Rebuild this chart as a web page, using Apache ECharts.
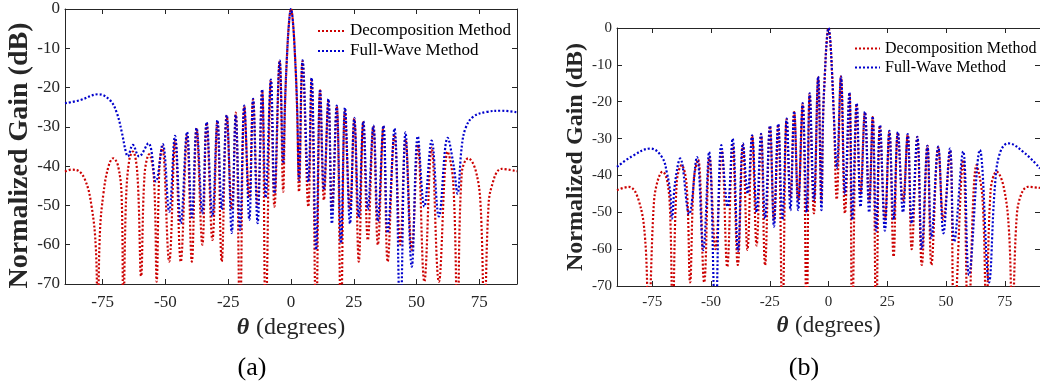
<!DOCTYPE html>
<html><head><meta charset="utf-8">
<script src="https://cdn.jsdelivr.net/npm/echarts@6/dist/echarts.min.js"></script>
<style>html,body{margin:0;padding:0;background:#fff}#c{width:1040px;height:387px}</style>
</head><body><div id="c"></div>
<script>
// ---- data (theta in degrees, normalized gain in dB) ----
const xTicks = [-75, -50, -25, 0, 25, 50, 75];
const seriesNames = ['Decomposition Method', 'Full-Wave Method'];
const captions = ['(a)', '(b)'];

const decompA = [[-90,-41.4],[-87.5,-40.9],[-85.4,-41.0],[-82,-43.5],[-79.4,-50.3],[-77.7,-61],[-77,-80],[-76.1,-57],[-74.7,-47],[-72.7,-40.1],[-70.8,-38.0],[-68.8,-40.1],[-67.4,-48.6],[-66.8,-80],[-65.7,-48.6],[-64.4,-38.4],[-63,-36.3],[-61.2,-41.8],[-59.7,-68],[-58.3,-42],[-56.5,-37],[-54.6,-43],[-53.5,-69.4],[-52.4,-40],[-51.3,-35],[-48.5,-64.3],[-46.1,-33.5],[-43.9,-64.3],[-41.4,-32],[-39.5,-64.3],[-37.6,-30.6],[-35.3,-60],[-33.6,-29],[-31.3,-58.8],[-29.3,-28.6],[-27.6,-64.3],[-25.6,-27.2],[-23.6,-51],[-22.0,-26.4],[-20.3,-80],[-18.6,-24.8],[-16.6,-48],[-15.1,-23.1],[-13.3,-50],[-11.5,-20.7],[-10.1,-80],[-8.0,-18.2],[-6.6,-50.3],[-4.5,-13.3],[-3.1,-46.5],[-2.4,-25],[-1.6,-12],[-0.7,-2.8],[0,0],[0.7,-2.8],[1.6,-12],[2.4,-25],[3.2,-46.5],[4.6,-13.3],[6.9,-50.3],[8.2,-17.7],[10.0,-80],[11.6,-20.7],[13.1,-48.6],[14.9,-23.1],[16.3,-51],[18.2,-24.8],[19.9,-80],[21.5,-26],[23.5,-51],[25.2,-27.9],[27.0,-64.3],[28.8,-28.8],[30.6,-58.8],[32.8,-30],[34.6,-60],[36.8,-30],[38.5,-64.3],[41.2,-32],[43.5,-60],[45.6,-33.2],[48.1,-61.3],[50.5,-34.6],[53.1,-69.4],[56,-35.3],[58.9,-69.4],[62.4,-36.3],[64.6,-44],[66.3,-80],[68,-41.8],[70.6,-38],[73.5,-41],[75.5,-50],[77,-80],[78.5,-52],[79.9,-45.2],[83.9,-40.7],[90,-41.3]];

const fullA = [[-90,-24],[-84,-23.2],[-76.7,-21.7],[-72.1,-23.2],[-69.4,-26.4],[-67.4,-31.3],[-65.8,-36.3],[-65,-37.5],[-63,-34.6],[-60.5,-37.5],[-56.8,-34.2],[-53.8,-43.9],[-51.1,-34.4],[-48.5,-51.6],[-46.2,-32.3],[-43.9,-54.5],[-41.4,-31.3],[-39.5,-53],[-37.6,-30.3],[-35.3,-52],[-33.6,-28.8],[-31.3,-52.8],[-29.3,-28.3],[-27.6,-51],[-25.6,-27],[-23.6,-57],[-22.0,-27],[-20.3,-56.2],[-18.6,-24.6],[-16.6,-53.7],[-15.1,-22.9],[-13.3,-54.5],[-11.5,-20.5],[-10.1,-48],[-8.0,-18],[-6.6,-46.9],[-4.5,-13.1],[-3.1,-39.3],[-2.4,-24],[-1.6,-12],[-0.7,-2.8],[0,0],[0.7,-2.8],[1.6,-12],[2.4,-24],[3.2,-43.5],[4.6,-13.1],[6.9,-44],[8.2,-17.5],[10.0,-61.3],[11.6,-20.5],[13.1,-46],[14.9,-22.9],[16.3,-54.6],[18.2,-24.6],[19.9,-59.6],[21.5,-25.1],[23.5,-54.6],[25.2,-27.7],[27.0,-53],[28.8,-28.6],[30.6,-51],[32.8,-29.7],[34.6,-54],[36.8,-29.7],[38.5,-57],[41.2,-30.4],[43.5,-80],[45.6,-31.4],[48.1,-65.6],[50.5,-32.4],[53.1,-50.3],[56,-33.5],[58.9,-52.8],[62.4,-32.8],[64.8,-40],[66.3,-47],[68,-35],[69.6,-30.2],[72.6,-27.4],[77.9,-26.2],[83.9,-25.9],[90,-26.3]];

const decompB = [[-90,-44],[-85,-43.1],[-80.8,-46.7],[-78,-57.5],[-76.6,-80],[-74.4,-48.5],[-73,-42.2],[-70.6,-39],[-68.7,-41.3],[-67.4,-50],[-66.3,-80],[-64.6,-42],[-62.5,-37.2],[-60.4,-42.5],[-58.9,-69],[-57.3,-41],[-55.5,-35.7],[-52.9,-69],[-50.6,-35],[-48.1,-60],[-45.4,-33.4],[-43.1,-64.8],[-40.8,-31.8],[-38.6,-64.3],[-36.4,-31.8],[-34.5,-60.2],[-32.5,-29.3],[-30.6,-59],[-28.7,-28.9],[-27.0,-64.4],[-24.9,-26.7],[-23.2,-52],[-21.4,-26.2],[-19.6,-80],[-17.8,-24.8],[-16.2,-46],[-14.6,-22.8],[-12.9,-46.7],[-11.0,-20.6],[-9.3,-80],[-8.0,-17.9],[-6.2,-50.3],[-4.4,-13.4],[-3.0,-47],[-2.3,-24],[-1.5,-12],[-0.7,-3],[0,0],[0.7,-3],[1.5,-12],[2.3,-24],[3.5,-46.5],[5.3,-13.2],[7.0,-50.3],[8.9,-17.7],[10.1,-80],[12.0,-20.6],[13.6,-45],[15.5,-22.9],[17.3,-47],[18.8,-24.2],[20.3,-80],[21.9,-26.5],[24.0,-52],[25.9,-28.1],[27.7,-62],[29.5,-28.4],[31.7,-47],[33.7,-29],[35.4,-60],[37.8,-29.6],[39.7,-64.3],[42.1,-32],[43.8,-64.3],[46.7,-32.5],[48.9,-52],[51.7,-33.2],[53.5,-80],[57.3,-35.8],[59.5,-80],[63,-37.2],[65.5,-46],[67.2,-80],[69,-44],[71.6,-39],[74.5,-43],[76.8,-55],[78.2,-80],[80,-52],[81.8,-45.5],[84.9,-43.1],[90,-43.4]];

const fullB = [[-90,-37.7],[-83.6,-34.8],[-75.8,-32.7],[-70.9,-35],[-68.7,-39.5],[-67.3,-44.9],[-66.6,-51.7],[-65.3,-42],[-63.1,-35.4],[-59.3,-50.5],[-56,-35],[-53.3,-60.2],[-50.8,-33.6],[-48.1,-80],[-45.6,-31.8],[-42.9,-48.5],[-40.8,-30],[-38.5,-60.5],[-36.4,-31.3],[-34.4,-44.9],[-32.5,-29.1],[-30.6,-50],[-28.7,-28.7],[-27.0,-51.7],[-24.9,-26.5],[-23.2,-53.9],[-21.4,-26],[-19.6,-52],[-17.8,-24.6],[-16.2,-49.4],[-14.6,-22.6],[-12.9,-49.4],[-11.0,-20.4],[-9.3,-50],[-8.0,-17.7],[-6.2,-46.7],[-4.4,-13.2],[-3.0,-49.4],[-2.3,-24],[-1.5,-12],[-0.7,-3],[0,0],[0.7,-3],[1.5,-12],[2.3,-24],[3.5,-38],[5.3,-13.1],[7.0,-45],[8.9,-17.5],[10.1,-52],[12.0,-20.4],[13.6,-48.5],[15.5,-22.7],[17.3,-50],[18.8,-24],[20.3,-55],[21.9,-26.3],[24.0,-55],[25.9,-27.9],[27.7,-52],[29.5,-28.2],[31.7,-50],[33.7,-28.8],[35.4,-53],[37.8,-29.5],[39.7,-60],[42.1,-32],[43.8,-57],[46.7,-32.2],[48.9,-55.7],[51.7,-32.7],[53.5,-58],[57.3,-33.5],[59.8,-67],[64.4,-33.1],[68.3,-69],[70.8,-43.1],[72.9,-34],[76.5,-31.3],[83.6,-34],[90,-38.1]];

// ---- styling ----
const FONT = 'Liberation Serif';
const INK = '#262626';
const RED = '#cc0000';
const BLUE = '#0000cc';

const panels = [
  {grid:{left:65, top:9, width:452, height:275}, data:[decompA, fullA],
   tickSize:17, xNameSize:24, yNameSize:28, xGap:19, yGap:24, yPad:[0,18,0,0], xMargin:10,
   legend:{left:317, top:22, itemWidth:27, fontSize:17}, caption:{x:252, y:368, size:26}},
  {grid:{left:617, top:28, width:424, height:258}, data:[decompB, fullB],
   tickSize:15, xNameSize:23, yNameSize:24, xGap:17, yGap:28, yPad:[0,0,0,0], xMargin:9,
   legend:{left:854, top:40, itemWidth:25, fontSize:16}, caption:{x:804, y:368, size:26}}
];

const option = {animation:false, grid:[], xAxis:[], yAxis:[], series:[], legend:[], graphic:[]};
panels.forEach((p, g) => {
  option.grid.push(Object.assign({containLabel:false}, p.grid));
  const lineS = {show:true, onZero:false, lineStyle:{color:INK, width:1}};
  const tickS = {show:true, inside:true, length:5, lineStyle:{color:INK, width:1}};
  option.xAxis.push({
    type:'value', gridIndex:g, min:-90, max:90, position:'bottom',
    axisLine:lineS, axisTick:Object.assign({customValues:xTicks}, tickS),
    axisLabel:{customValues:xTicks, fontFamily:FONT, fontSize:p.tickSize, color:INK, margin:p.xMargin},
    splitLine:{show:false},
    name:'{t|θ}  {d|(degrees)}', nameLocation:'middle', nameGap:p.xGap,
    nameTextStyle:{rich:{
      t:{fontFamily:FONT, fontStyle:'italic', fontWeight:'bold', fontSize:p.xNameSize, color:INK},
      d:{fontFamily:FONT, fontSize:p.xNameSize, color:INK}}}
  });
  option.xAxis.push({
    type:'value', gridIndex:g, min:-90, max:90, position:'top',
    axisLine:lineS, axisTick:Object.assign({customValues:xTicks}, tickS),
    axisLabel:{show:false}, splitLine:{show:false}
  });
  option.yAxis.push({
    type:'value', gridIndex:g, min:-70, max:0, interval:10, position:'left',
    axisLine:lineS, axisTick:tickS,
    axisLabel:{fontFamily:FONT, fontSize:p.tickSize, color:INK, margin:5},
    splitLine:{show:false},
    name:'Normalized Gain (dB)', nameLocation:'middle', nameGap:p.yGap,
    nameTextStyle:{fontFamily:FONT, fontWeight:'bold', fontSize:p.yNameSize, color:INK, padding:p.yPad}
  });
  option.yAxis.push({
    type:'value', gridIndex:g, min:-70, max:0, interval:10, position:'right',
    axisLine:lineS, axisTick:tickS, axisLabel:{show:false}, splitLine:{show:false}
  });
  [RED, BLUE].forEach((col, k) => {
    option.series.push({
      type:'line', name:seriesNames[k], xAxisIndex:2*g, yAxisIndex:2*g,
      data:p.data[k], showSymbol:false, symbol:'none', smooth:0.4, clip:true,
      lineStyle:{color:col, width:2.2, type:[2,2]}, itemStyle:{color:col}, z:2+k
    });
  });
  option.legend.push({
    left:p.legend.left, top:p.legend.top, orient:'vertical', padding:0,
    itemWidth:p.legend.itemWidth, itemHeight:10, itemGap:2, selectedMode:false,
    data:seriesNames,
    itemStyle:{opacity:0, borderWidth:0},
    textStyle:{fontFamily:FONT, fontSize:p.legend.fontSize, lineHeight:p.legend.fontSize+1, color:'#000'}
  });
  option.graphic.push({
    type:'text', x:p.caption.x, y:p.caption.y,
    style:{text:captions[g], fontFamily:FONT, fontSize:p.caption.size, fill:'#000', align:'center', verticalAlign:'middle'}
  });
});

const chart = echarts.init(document.getElementById('c'), null, {renderer:'canvas'});
chart.setOption(option);
</script>
</body></html>
